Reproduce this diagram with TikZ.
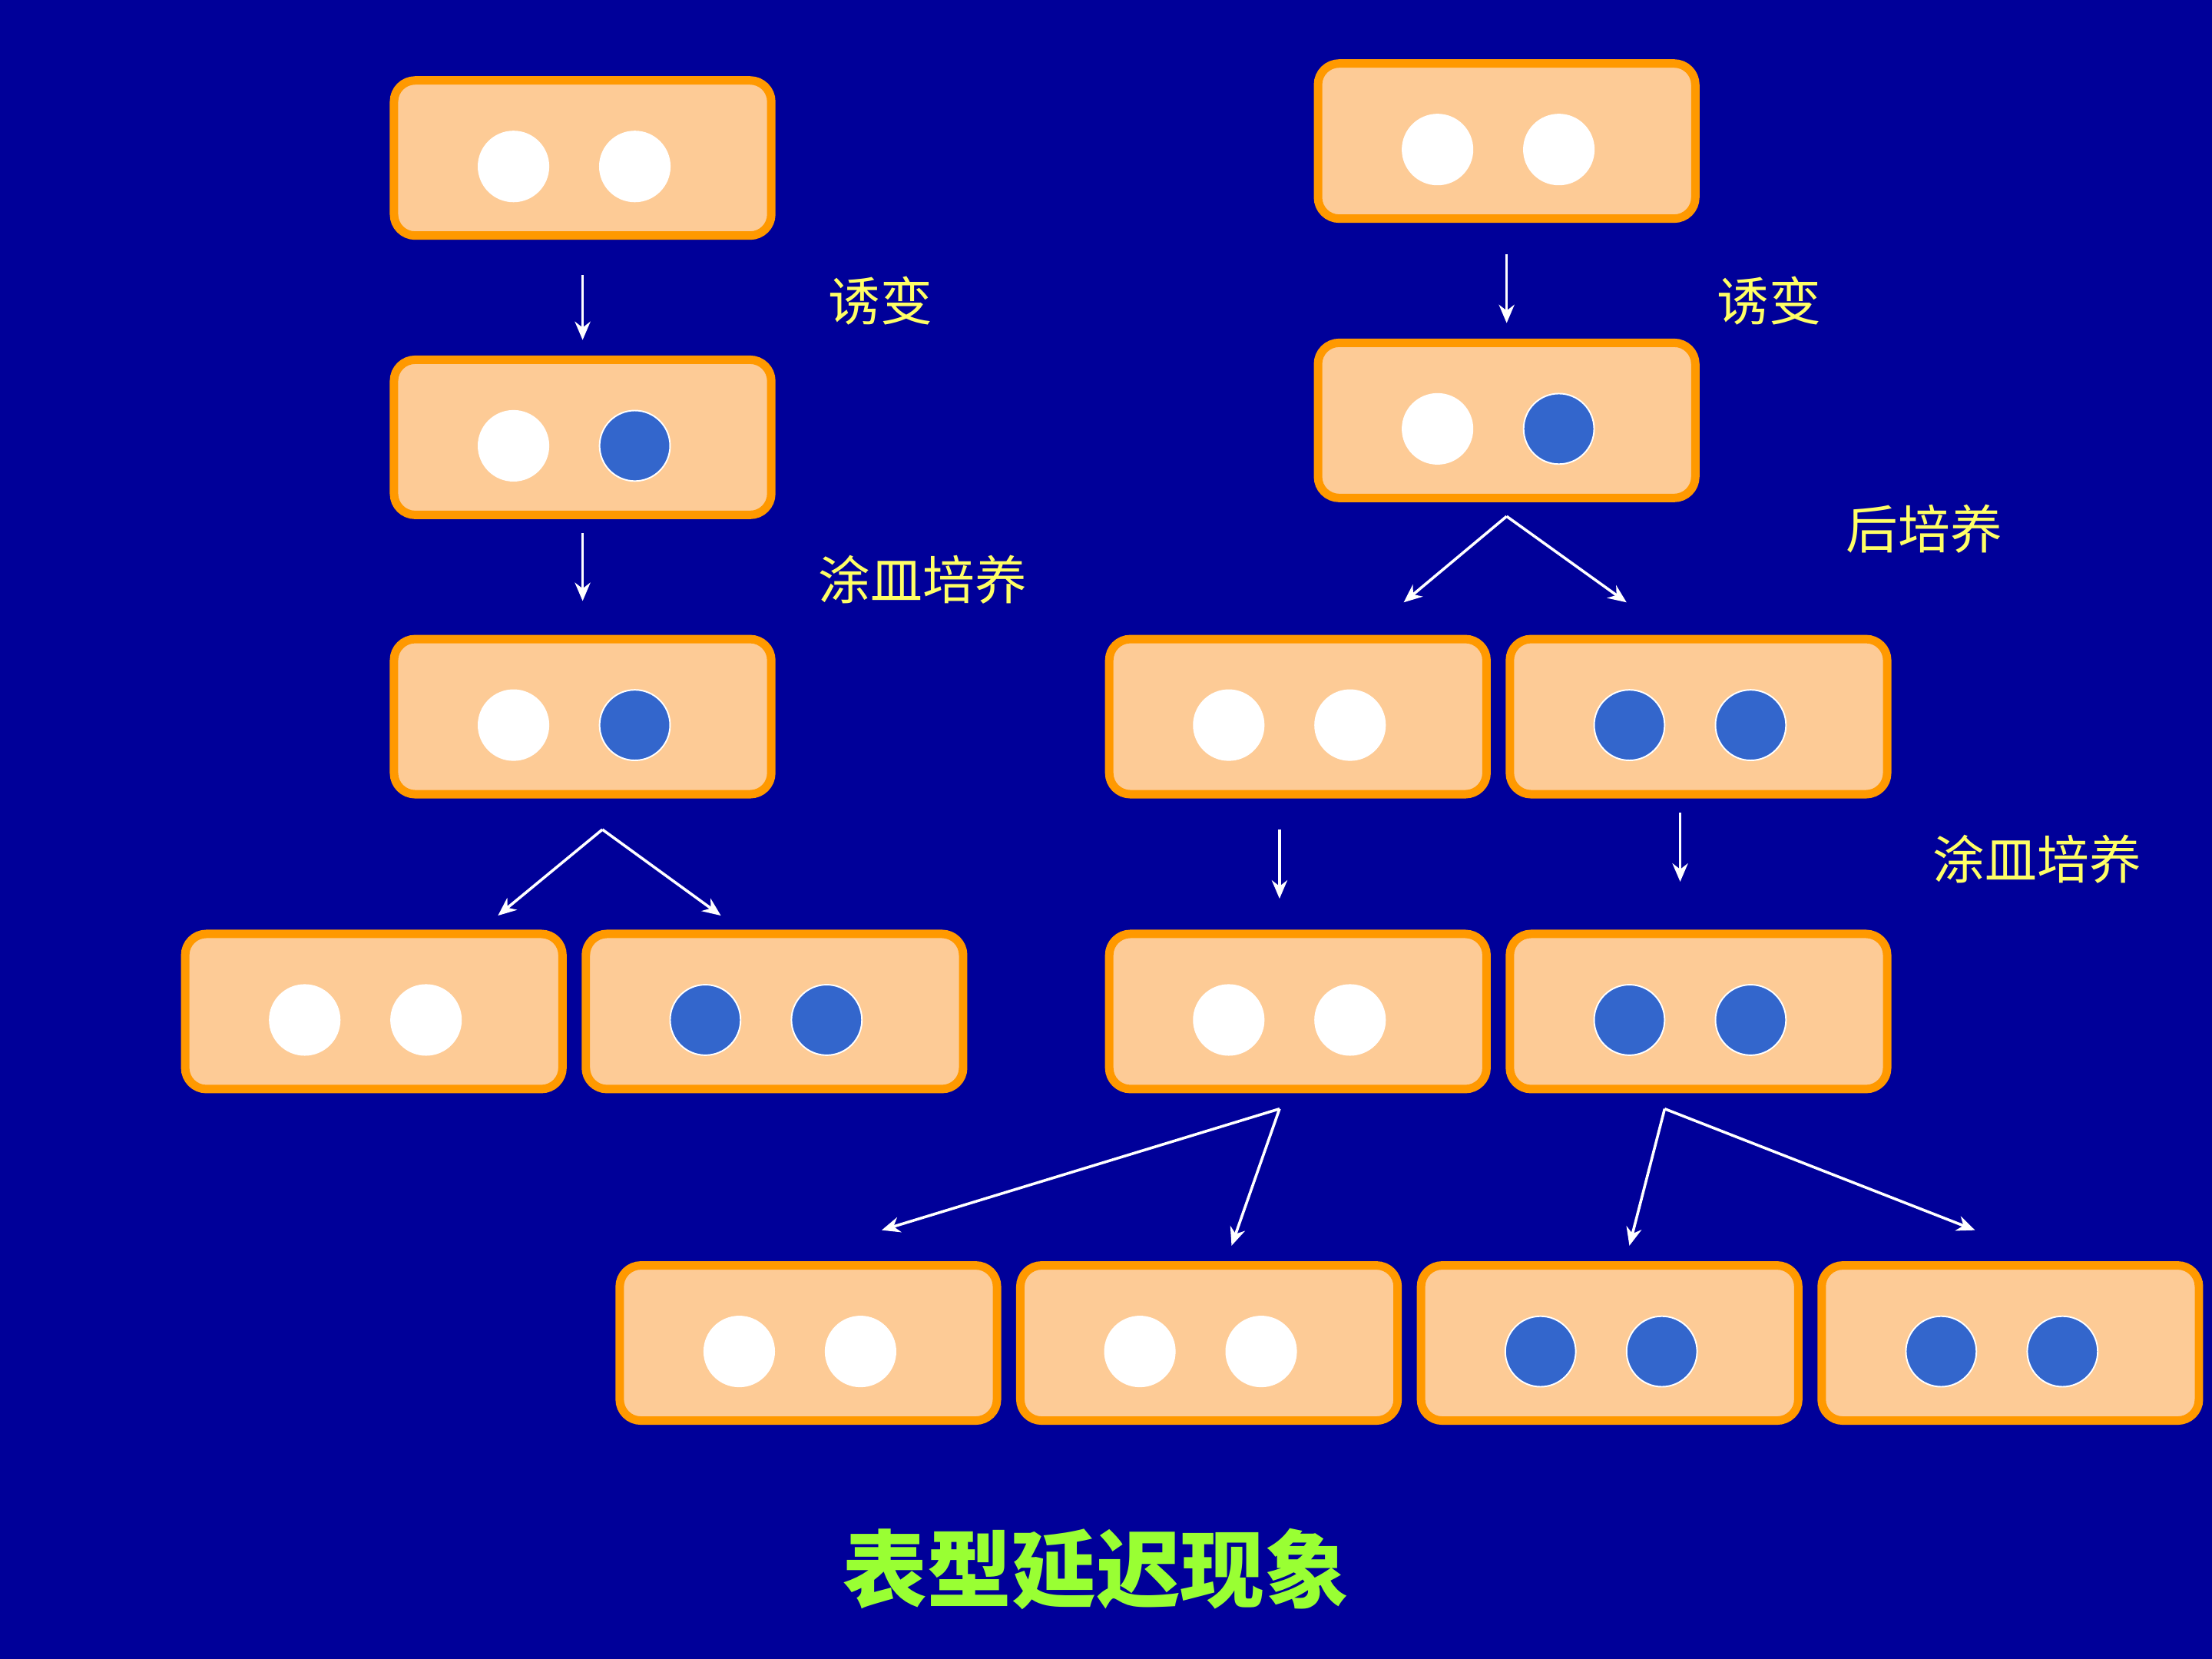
\documentclass[tikz,border=0pt]{standalone}
\usepackage{fontspec}
\newfontfamily\cjk{Noto Sans CJK SC}
\usetikzlibrary{arrows.meta}
\definecolor{bgblue}{HTML}{000099}
\definecolor{cellfill}{HTML}{FDCB96}
\definecolor{cellline}{HTML}{FF9900}
\definecolor{dotblue}{HTML}{3366CC}
\definecolor{titlegreen}{HTML}{99FF33}
\definecolor{labelyellow}{HTML}{FFFF66}

\begin{document}
\begin{tikzpicture}[
    x=0.02cm, y=-0.02cm,
    cell/.style={rectangle, draw=cellline, line width=3.4pt, fill=cellfill, rounded corners=0.3cm, minimum width=5.35cm, minimum height=2.2cm},
    wdot/.style={circle, fill=white, draw=white, inner sep=0pt, minimum size=1.0cm},
    bdot/.style={circle, fill=dotblue, draw=white, line width=0.6pt, inner sep=0pt, minimum size=1.0cm},
    arrow/.style={-{Stealth[length=2.6mm, width=2.2mm]}, white, line width=1.1pt},
    steplabel/.style={font=\cjk\fontsize{21}{21}\selectfont, text=labelyellow}
]

% background and bounds
\fill[bgblue] (0,0) rectangle (1568,1176);

% cells: name/x/y/left dot/right dot
\foreach \name/\x/\y/\l/\r in {
    a1/413/112/wdot/wdot, a2/413/310/wdot/bdot, a3/413/508/wdot/bdot,
    a4/265/717/wdot/wdot, a5/549/717/bdot/bdot,
    b1/1068/100/wdot/wdot, b2/1068/298/wdot/bdot,
    b3/920/508/wdot/wdot, b4/1204/508/bdot/bdot,
    b5/920/717/wdot/wdot, b6/1204/717/bdot/bdot,
    c1/573/952/wdot/wdot, c2/857/952/wdot/wdot,
    c3/1141/952/bdot/bdot, c4/1425/952/bdot/bdot} {
  \node[cell] (\name) at (\x,\y) {};
  \node[\l] (\name-l) at (\x-49,\y+6) {};
  \node[\r] (\name-r) at (\x+37,\y+6) {};
}

% arrow ends
\coordinate (a1-s) at (413,195); \coordinate (a2-e) at (413,241);
\coordinate (a2-s) at (413,378); \coordinate (a3-e) at (413,426);
\coordinate (a3-s) at (427,588); \coordinate (a4-e) at (353,649); \coordinate (a5-e) at (511,649);
\coordinate (b1-s) at (1068,180); \coordinate (b2-e) at (1068,229);
\coordinate (b2-s) at (1068,366); \coordinate (b3-e) at (995,427); \coordinate (b4-e) at (1153,427);
\coordinate (b3-s) at (907,588); \coordinate (b5-e) at (907,637);
\coordinate (b4-s) at (1191,576); \coordinate (b6-e) at (1191,625);
\coordinate (b5-s) at (907,786); \coordinate (c1-e) at (625,872); \coordinate (c2-e) at (873,883);
\coordinate (b6-s) at (1180,786); \coordinate (c3-e) at (1155,883); \coordinate (c4-e) at (1400,872);

% connectors
\draw[arrow] (a1-s) -- (a2-e);
\draw[arrow] (a2-s) -- (a3-e);
\draw[arrow] (a3-s) -- (a4-e);
\draw[arrow] (a3-s) -- (a5-e);
\draw[arrow] (b1-s) -- (b2-e);
\draw[arrow] (b2-s) -- (b3-e);
\draw[arrow] (b2-s) -- (b4-e);
\draw[arrow] (b3-s) -- (b5-e);
\draw[arrow] (b4-s) -- (b6-e);
\draw[arrow] (b5-s) -- (c1-e);
\draw[arrow] (b5-s) -- (c2-e);
\draw[arrow] (b6-s) -- (c3-e);
\draw[arrow] (b6-s) -- (c4-e);

% labels
\node[steplabel] (mut-left) at (624,213) {诱变};
\node[steplabel] (plate-left) at (654,411) {涂皿培养};
\node[steplabel] (mut-right) at (1254,213) {诱变};
\node[steplabel] (post-right) at (1364,375) {后培养};
\node[steplabel] (plate-right) at (1444,609) {涂皿培养};
\node[font=\cjk\bfseries\fontsize{34}{34}\selectfont, text=titlegreen] (title) at (777,1112) {表型延迟现象};

\end{tikzpicture}
\end{document}
